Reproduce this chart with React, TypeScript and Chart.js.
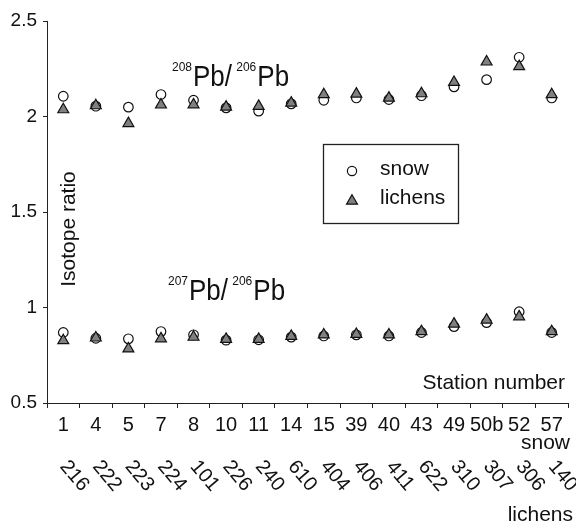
import React, { useEffect, useRef } from "react";
import { Chart, registerables } from "chart.js";

Chart.register(...registerables);

const FONT = '"Liberation Sans", Arial, Helvetica, sans-serif';

const snowStations = ["1", "4", "5", "7", "8", "10", "11", "14", "15", "39", "40", "43", "49", "50b", "52", "57"];
const lichenStations = ["216", "222", "223", "224", "101", "226", "240", "610", "404", "406", "411", "622", "310", "307", "306", "140"];

const snow208 = [2.106, 2.054, 2.049, 2.115, 2.085, 2.045, 2.028, 2.066, 2.085, 2.097, 2.089, 2.109, 2.155, 2.193, 2.31, 2.097];
const lichens208 = [2.036, 2.057, 1.964, 2.061, 2.062, 2.05, 2.054, 2.071, 2.115, 2.118, 2.097, 2.12, 2.179, 2.286, 2.262, 2.115];
const snow207 = [0.869, 0.839, 0.836, 0.874, 0.857, 0.829, 0.831, 0.845, 0.851, 0.857, 0.851, 0.869, 0.9, 0.921, 0.978, 0.869];
const lichens207 = [0.827, 0.841, 0.784, 0.837, 0.845, 0.834, 0.834, 0.85, 0.857, 0.86, 0.857, 0.874, 0.914, 0.935, 0.952, 0.874];

const yMin = 0.5;
const yMax = 2.5;
const yStep = 0.5;

const TRI_FILL = "#808080";
const EDGE = "#111111";

function drawTriangle(ctx: CanvasRenderingContext2D, x: number, y: number, r: number) {
  ctx.beginPath();
  ctx.moveTo(x, y - r);
  ctx.lineTo(x + 0.866 * r, y + 0.5 * r);
  ctx.lineTo(x - 0.866 * r, y + 0.5 * r);
  ctx.closePath();
  ctx.fillStyle = TRI_FILL;
  ctx.fill();
  ctx.lineWidth = 1.2;
  ctx.strokeStyle = EDGE;
  ctx.stroke();
}

function drawCircle(ctx: CanvasRenderingContext2D, x: number, y: number, r: number) {
  ctx.beginPath();
  ctx.arc(x, y, r, 0, Math.PI * 2);
  ctx.fillStyle = "#ffffff";
  ctx.fill();
  ctx.lineWidth = 1.2;
  ctx.strokeStyle = EDGE;
  ctx.stroke();
}

function stretchedText(ctx: CanvasRenderingContext2D, s: string, x: number, y: number, sy: number) {
  ctx.save();
  ctx.translate(x, y);
  ctx.scale(1, sy);
  ctx.fillText(s, 0, 0);
  ctx.restore();
}

function drawPbLabel(ctx: CanvasRenderingContext2D, x: number, baseline: number, sup1: string, sup2: string) {
  const big = `26px ${FONT}`;
  const small = `12px ${FONT}`;
  ctx.textAlign = "left";
  ctx.textBaseline = "alphabetic";
  let cx = x;
  ctx.font = small;
  ctx.fillText(sup1, cx, baseline - 15);
  cx += ctx.measureText(sup1).width + 1;
  ctx.font = big;
  stretchedText(ctx, "Pb/", cx, baseline, 1.12);
  cx += ctx.measureText("Pb/ ").width - 3;
  ctx.font = small;
  ctx.fillText(sup2, cx, baseline - 15);
  cx += ctx.measureText(sup2).width + 1;
  ctx.font = big;
  stretchedText(ctx, "Pb", cx, baseline, 1.12);
}

const annotations = {
  id: "annotations",
  afterDraw(chart: any) {
    const ctx: CanvasRenderingContext2D = chart.ctx;
    const xs = chart.scales.x;
    const ca = chart.chartArea;
    ctx.save();
    ctx.fillStyle = "#111";

    // rotated lichen station labels
    ctx.font = `20px ${FONT}`;
    ctx.textAlign = "center";
    ctx.textBaseline = "middle";
    lichenStations.forEach((s, i) => {
      const x = xs.getPixelForValue(i) + 11;
      ctx.save();
      ctx.translate(x, 476);
      ctx.rotate((50 * Math.PI) / 180);
      ctx.fillText(s, 0, 0);
      ctx.restore();
    });

    // axis annotations
    ctx.font = `21px ${FONT}`;
    ctx.textAlign = "right";
    ctx.textBaseline = "alphabetic";
    ctx.fillText("Station number", ca.right - 3, 389);
    ctx.fillText("snow", ca.right + 2, 449);
    ctx.fillText("lichens", ca.right + 5, 521);

    // y title inside plot
    ctx.save();
    ctx.translate(ca.left + 22, 229);
    ctx.rotate(-Math.PI / 2);
    ctx.textAlign = "center";
    ctx.textBaseline = "middle";
    ctx.fillText("Isotope ratio", 0, 0);
    ctx.restore();

    // ratio labels
    drawPbLabel(ctx, 172, 86, "208", "206");
    drawPbLabel(ctx, 168, 300, "207", "206");

    // legend box
    const lx = 323, ly = 144, lw = 135, lh = 79;
    ctx.lineWidth = 1.3;
    ctx.strokeStyle = "#222";
    ctx.strokeRect(lx + 0.5, ly + 0.5, lw, lh);
    drawCircle(ctx, lx + 29, ly + 27, 4.6);
    drawTriangle(ctx, lx + 29, ly + 57, 6.3);
    ctx.fillStyle = "#111";
    ctx.font = `21px ${FONT}`;
    ctx.textAlign = "left";
    ctx.textBaseline = "middle";
    ctx.fillText("snow", lx + 57, ly + 25);
    ctx.fillText("lichens", lx + 57, ly + 54);

    ctx.restore();
  },
};

export default function App() {
  const canvasRef = useRef<HTMLCanvasElement | null>(null);

  useEffect(() => {
    if (!canvasRef.current) return;
    const triangle = {
      pointStyle: "triangle",
      pointRadius: 6.3,
      pointBackgroundColor: TRI_FILL,
      pointBorderColor: EDGE,
      pointBorderWidth: 1.2,
      showLine: false,
    };
    const circle = {
      pointStyle: "circle",
      pointRadius: 4.8,
      pointBackgroundColor: "#ffffff",
      pointBorderColor: EDGE,
      pointBorderWidth: 1.2,
      showLine: false,
    };
    const chart = new Chart(canvasRef.current, {
      type: "line",
      data: {
        labels: snowStations,
        datasets: [
          { label: "lichens", data: lichens208, ...triangle },
          { label: "lichens", data: lichens207, ...triangle },
          { label: "snow", data: snow208, ...circle },
          { label: "snow", data: snow207, ...circle },
        ] as any,
      },
      options: {
        animation: false,
        responsive: false,
        layout: { padding: { top: 21, right: 8, left: 0, bottom: 0 } },
        plugins: { legend: { display: false }, tooltip: { enabled: false } },
        elements: { point: { hoverRadius: 6 } },
        scales: {
          x: {
            type: "category",
            offset: true,
            grid: {
              offset: true,
              drawOnChartArea: false,
              drawTicks: true,
              tickLength: 5,
              color: "#222",
            },
            border: { display: true, color: "#222", width: 1 },
            ticks: {
              color: "#111",
              font: { family: FONT, size: 20 },
              maxRotation: 0,
              minRotation: 0,
              autoSkip: false,
              padding: 5,
            },
            afterFit(scale: any) {
              scale.height = 125;
            },
          },
          y: {
            min: yMin,
            max: yMax,
            grid: {
              drawOnChartArea: false,
              drawTicks: true,
              tickLength: 4,
              color: "#222",
            },
            border: { display: true, color: "#222", width: 1 },
            ticks: {
              stepSize: yStep,
              color: "#111",
              font: { family: FONT, size: 19 },
              padding: 6,
              callback: (v: any) => String(Number(v)),
            },
            afterFit(scale: any) {
              scale.width = 47;
            },
          },
        },
      } as any,
      plugins: [annotations],
    });
    return () => chart.destroy();
  }, []);

  return (
    <div style={{ position: "absolute", left: 0, top: 0, width: 576, height: 528, background: "#fff" }}>
      <canvas ref={canvasRef} width={576} height={528} style={{ display: "block" }} />
    </div>
  );
}
